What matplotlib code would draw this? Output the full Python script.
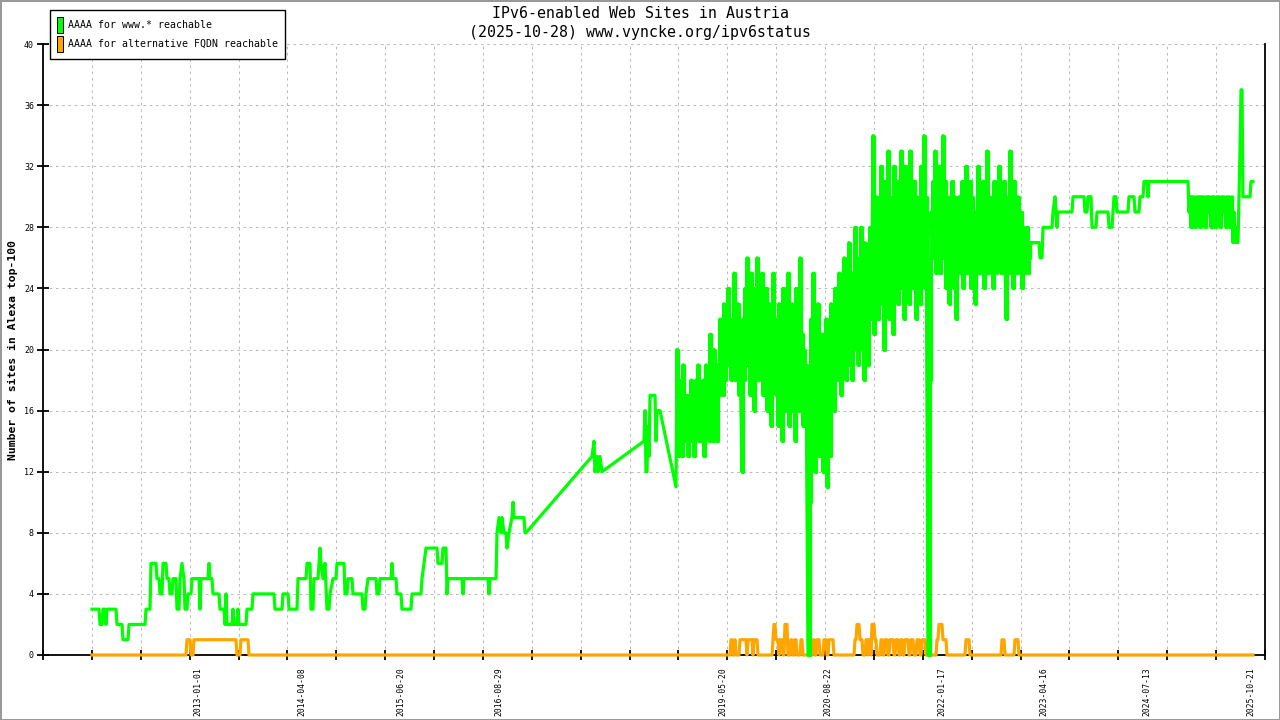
import numpy as np
import matplotlib
matplotlib.use("Agg")
import matplotlib.pyplot as plt
from matplotlib.patches import Patch

plt.rcParams['font.family'] = ['DejaVu Sans Mono']

# --- datos (posicion = numero de muestra) ---
# www.* : tramo inicial (pares posicion/valor)
green_early_pos = [0, 7, 8, 10, 11, 13, 14, 15, 24, 25, 30, 31, 36, 37, 53, 54, 58, 59, 64, 65,
                   67, 68, 70, 71, 74, 75, 77, 78, 80, 81, 84, 85, 87, 88, 90, 92, 93, 95, 96, 99,
                   100, 107, 108, 109, 116, 117, 118, 120, 121, 127, 128, 132, 133, 134, 135, 140,
                   141, 142, 145, 146, 147, 154, 155, 160, 161, 182, 183, 190, 191, 196, 197, 205,
                   206, 214, 215, 218, 219, 221, 222, 226, 227, 228, 229, 231, 233, 235, 237, 238,
                   241, 244, 245, 252, 253, 255, 256, 260, 261, 270, 271, 273, 274, 276, 284, 285,
                   287, 288, 299, 300, 301, 304, 305, 309, 310, 319, 320, 329, 330, 332, 334, 345,
                   346, 350, 351, 354, 355, 356, 370, 371, 372, 396, 397, 398, 404, 405, 407, 409,
                   410, 412, 414, 415, 417, 420, 421, 422, 432, 433, 434, 500, 502, 503, 505, 506,
                   508, 510, 552, 553, 554, 555, 556, 557, 558, 563, 564, 565, 568, 584]
green_early_val = [3, 3, 2, 2, 3, 3, 2, 3, 3, 2, 2, 1, 1, 2, 2, 3, 3, 6, 6, 5,
                   5, 4, 4, 6, 6, 5, 5, 4, 4, 5, 5, 3, 3, 5, 6, 5, 3, 3, 4, 4,
                   5, 5, 3, 5, 5, 6, 5, 5, 4, 4, 3, 3, 2, 4, 2, 2,
                   3, 2, 2, 3, 2, 2, 3, 3, 4, 4, 3, 3, 4, 4, 3, 3,
                   5, 5, 6, 6, 3, 3, 5, 5, 6, 7, 6, 5, 6, 3, 3, 4,
                   5, 5, 6, 6, 4, 4, 5, 5, 4, 4, 3, 3, 4, 5, 5, 4,
                   4, 5, 5, 6, 5, 5, 4, 4, 3, 3, 4, 4, 5, 6, 7, 7,
                   6, 6, 7, 7, 4, 5, 5, 4, 5, 5, 4, 5, 5, 8, 9, 8,
                   9, 8, 8, 7, 8, 9, 10, 9, 9, 8, 8, 13, 14, 12, 13, 12,
                   13, 12, 14, 16, 12, 12, 15, 13, 17, 17, 14, 16, 16, 11]

# www.* : tramo con mucha variacion (una muestra por posicion, desde 585)
green_noisy_a = [20, 13, 18, 14, 17, 13, 19, 15, 16, 14, 17, 13, 16, 15, 18, 14, 17, 13, 16, 18,
                 15, 19, 14, 17, 16, 14, 18, 13, 17, 19, 15, 17, 14, 21, 16, 18, 14, 20, 15, 18,
                 14, 19, 17, 22, 18, 20, 17, 23, 18, 21, 19, 24, 19, 22, 18, 21, 20, 25, 18, 22,
                 19, 23, 17, 21, 16, 12, 22, 18, 24, 19, 26, 20, 23, 17, 25, 19, 22, 16, 24, 20,
                 26, 18, 23, 21, 19, 25, 17, 22, 20, 24, 16, 21, 19, 23, 15, 20, 25, 18, 22, 17,
                 20, 15, 23, 18, 21, 14, 24, 19, 16, 22, 17, 25, 15, 20, 18, 23, 16, 21, 14, 24,
                 19, 22, 16, 26, 18, 21, 15, 20, 17, 19, 10, 0, 0, 10, 22, 14, 25, 18, 12, 20,
                 16, 23, 13, 19, 17, 21, 12, 18, 15, 22, 11, 17, 20, 13, 23, 17, 21, 16, 24, 19,
                 22, 18, 25, 20, 17, 23, 19, 26, 21, 18, 24, 20, 27, 19, 22, 18, 25, 21, 28, 20,
                 23, 19, 26, 22, 28, 20, 24, 18, 27, 21, 25, 19, 23, 28, 22, 26, 34, 21, 27, 24,
                 30, 22, 28, 25, 32, 23, 29, 20, 31, 26, 24, 33, 22, 30, 25, 28, 21, 32, 27, 24,
                 31, 23, 29, 26, 33, 24, 28, 22, 32, 27, 25, 30, 23, 33, 26, 29, 24, 31, 27, 22,
                 30, 25, 28, 23, 32, 26, 29, 34, 24, 30, 16, 0, 0, 18, 29, 26, 31, 27, 33, 25,
                 30, 28, 32, 25, 29, 27, 34, 26, 31, 24, 28, 30, 23, 29, 26, 31, 27, 24, 30, 22,
                 28, 26, 30, 25, 29, 31, 24, 28, 26, 32, 25, 29, 27, 31, 24, 30, 26, 28, 23, 29,
                 27, 32, 25, 30, 28, 26, 31, 24, 29, 27, 33, 25, 28, 30, 26, 29, 24, 31, 27, 25,
                 30, 26, 32, 28, 25, 29, 27, 31, 26, 22, 28, 30, 25, 33, 27, 29, 24, 31, 26, 28,
                 25, 30, 27, 26, 29, 24, 28, 25, 27, 26, 28, 25, 26, 27, 27]
noisy_a_start = 585

green_mid_pos = [940, 947, 948, 950, 951, 960, 961, 963, 965, 966, 980, 981, 992, 993, 995, 996,
                 999, 1000, 1004, 1005, 1016, 1017, 1020, 1021, 1022, 1024, 1025, 1036, 1037,
                 1042, 1043, 1047, 1048, 1051, 1052, 1055, 1056, 1057, 1096]
green_mid_val = [27, 27, 26, 26, 28, 28, 29, 30, 28, 29, 29, 30, 30, 29, 29, 30,
                 30, 28, 28, 29, 29, 28, 28, 29, 30, 30, 29, 29, 30,
                 30, 29, 29, 30, 30, 31, 31, 30, 31, 31]

green_noisy_b = [29, 30, 28, 30, 29, 30, 28, 29, 30, 29, 30, 28, 30, 29, 30, 29, 28, 30, 29, 30,
                 30, 29, 28, 30, 29, 30, 28, 29, 30, 29, 30, 28, 29, 30, 29, 30, 29, 28, 30, 29,
                 30, 28, 29, 30]
noisy_b_start = 1097

green_end_pos = [1141, 1142, 1143, 1144, 1145, 1146, 1147, 1148, 1149, 1150, 1151, 1158, 1159, 1161]
green_end_val = [27, 29, 27, 28, 27, 27, 30, 33, 37, 37, 30, 30, 31, 31]

# FQDN alternativo: tramos (inicio, fin, valor), el resto es 0
orange_runs = [(95, 98, 1), (102, 144, 1), (149, 156, 1),
               (639, 640, 1), (643, 643, 1), (648, 654, 1), (656, 660, 1), (662, 665, 1),
               (681, 681, 1), (682, 683, 2), (684, 686, 1), (688, 690, 1), (693, 695, 2),
               (699, 700, 1), (703, 704, 1), (709, 710, 1), (721, 722, 1), (725, 727, 1),
               (732, 734, 1), (737, 741, 1), (763, 764, 1), (765, 767, 2), (768, 770, 1),
               (774, 775, 1), (777, 778, 1), (780, 782, 2), (783, 784, 1), (789, 790, 1),
               (793, 795, 1), (798, 801, 1), (804, 806, 1), (809, 810, 1), (813, 816, 1),
               (819, 821, 1), (825, 827, 1), (830, 833, 1), (845, 846, 1), (847, 850, 2),
               (851, 854, 1), (874, 877, 1), (910, 912, 1), (923, 926, 1)]
n_samples = 1162

date_pos = [106, 210, 309, 407, 631, 736, 850, 952, 1055, 1159]
date_labels = ['2013-01-01', '2014-04-08', '2015-06-20', '2016-08-29', '2019-05-20',
               '2020-08-22', '2022-01-17', '2023-04-16', '2024-07-13', '2025-10-21']

# --- armar las series ---
na_x = list(range(noisy_a_start, noisy_a_start + len(green_noisy_a)))
nb_x = list(range(noisy_b_start, noisy_b_start + len(green_noisy_b)))
gx = green_early_pos + na_x + green_mid_pos + nb_x + green_end_pos
gy = green_early_val + green_noisy_a + green_mid_val + green_noisy_b + green_end_val

oy = np.zeros(n_samples)
for a, b, v in orange_runs:
    oy[a:b + 1] = v
ox = np.arange(n_samples)

verde = '#00ff00'
naranja = '#ffa500'

fig = plt.figure(figsize=(12.8, 7.2), dpi=100)
fig.patch.set_edgecolor('#999999')
fig.patch.set_linewidth(2)
ax = fig.add_axes([43 / 1280, 65 / 720, 1222 / 1280, 611 / 720])

ax.plot(ox, oy, color=naranja, lw=2.3, clip_on=False, zorder=4)
ax.plot(gx, gy, color=verde, lw=2.3, clip_on=False, zorder=5)
# los tramos muy variables se ven como escalones
ax.plot(na_x, green_noisy_a, color=verde, lw=2.3, drawstyle='steps-mid', clip_on=False, zorder=5)
ax.plot(nb_x, green_noisy_b, color=verde, lw=2.3, drawstyle='steps-mid', clip_on=False, zorder=5)

ax.set_xlim(-49, 1173)
ax.set_ylim(0, 40)

grid_x = np.linspace(-49, 1173, 26)
ax.set_xticks(grid_x, minor=True)
ax.set_xticks(date_pos, labels=date_labels, rotation=90, fontsize=5.8)
ax.set_yticks(range(0, 41, 4))
ax.tick_params(axis='x', which='major', length=0, pad=9)
ax.tick_params(axis='x', which='minor', length=7, width=1.3, direction='inout')
ax.tick_params(axis='y', length=9, width=1.3, direction='inout', labelsize=6, pad=2)

for x in grid_x[1:-1]:
    ax.axvline(x, color='#bbbbbb', lw=0.75, ls=(0, (2.5, 3.5)), zorder=1)
for y in range(4, 41, 4):
    ax.axhline(y, color='#bbbbbb', lw=0.75, ls=(0, (2.5, 3.5)), zorder=1)

ax.spines['top'].set_visible(False)
for s in ['left', 'bottom', 'right']:
    ax.spines[s].set_linewidth(1.3)

fig.text(0.5, 1 - 14 / 720, 'IPv6-enabled Web Sites in Austria', ha='center', va='center', fontsize=10.7)
fig.text(0.5, 1 - 32 / 720, '(2025-10-28) www.vyncke.org/ipv6status', ha='center', va='center', fontsize=10.7)
fig.text(13 / 1280, 1 - 350 / 720, 'Number of sites in Alexa top-100', rotation=90,
         ha='center', va='center', fontsize=8.2, fontweight='bold')

handles = [Patch(facecolor=verde, edgecolor='black', linewidth=0.7),
           Patch(facecolor=naranja, edgecolor='black', linewidth=0.7)]
leg = fig.legend(handles, ['AAAA for www.* reachable', 'AAAA for alternative FQDN reachable'],
                 loc='upper left', bbox_to_anchor=(50 / 1280, 1 - 10 / 720), borderaxespad=0,
                 fontsize=7.1, handlelength=0.6, handleheight=2.1, handletextpad=0.55,
                 labelspacing=0.3, borderpad=0.7, fancybox=False, framealpha=1)
leg.get_frame().set_edgecolor('black')
leg.get_frame().set_linewidth(1)

plt.savefig('out.png', dpi=100, facecolor='white', edgecolor=fig.get_edgecolor())
